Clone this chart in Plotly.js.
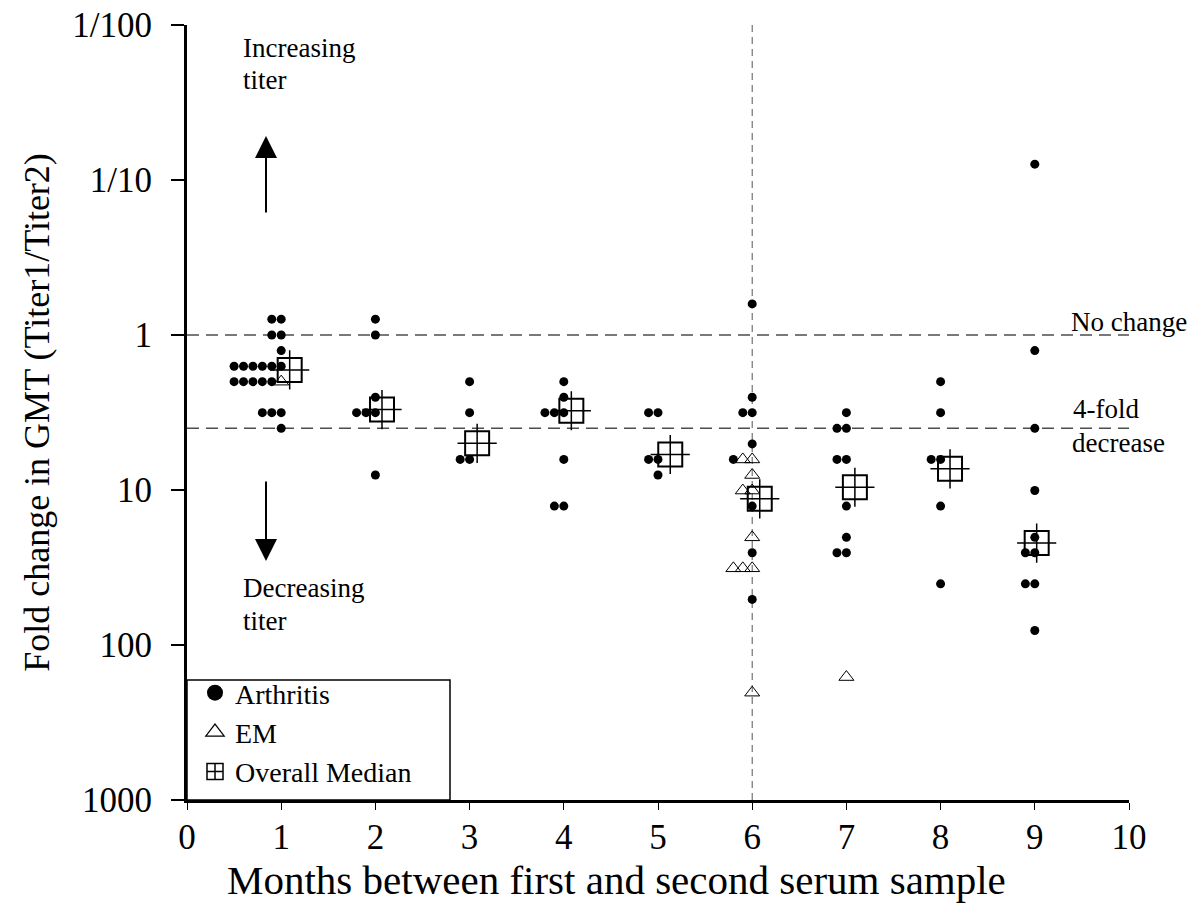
<!DOCTYPE html>
<html>
<head>
<meta charset="utf-8">
<script src="https://cdn.plot.ly/plotly-3.0.1.min.js"></script>
<style>html,body{margin:0;padding:0;background:#fff;}#chart{width:1193px;height:913px;}</style>
</head>
<body>
<div id="chart"></div>
<script>
// ---- Data ----
// Arthritis patients: months between samples (with side-by-side jitter) and fold change (Titer1/Titer2)
const arthritisX = [
  0.9, 1.0, 0.9, 1.0, 1.0,
  0.5, 0.6, 0.7, 0.8, 0.9, 1.0,
  0.5, 0.6, 0.7, 0.8, 0.9,
  0.8, 0.9, 1.0, 1.0,
  2.0, 2.0, 2.0, 1.8, 1.9, 2.0, 2.0,
  3.0, 3.0, 2.9, 3.0,
  4.0, 4.0, 3.8, 3.9, 4.0, 4.0, 3.9, 4.0,
  4.9, 5.0, 4.9, 5.0, 5.0,
  6.0, 6.0, 5.9, 6.0, 6.0, 5.8, 6.0, 6.0, 6.0,
  7.0, 6.9, 7.0, 6.9, 7.0, 7.0, 7.0, 6.9, 7.0,
  8.0, 8.0, 7.9, 8.0, 8.0, 8.0,
  9.0, 9.0, 9.0, 9.0, 9.0, 8.9, 9.0, 8.9, 9.0, 9.0
];
const arthritisY = [
  0.79, 0.79, 1.0, 1.0, 1.26,
  1.59, 1.59, 1.59, 1.59, 1.59, 1.59,
  2.0, 2.0, 2.0, 2.0, 2.0,
  3.17, 3.17, 3.17, 4.0,
  0.79, 1.0, 2.52, 3.17, 3.17, 3.17, 8.0,
  2.0, 3.17, 6.35, 6.35,
  2.0, 2.52, 3.17, 3.17, 3.17, 6.35, 12.7, 12.7,
  3.17, 3.17, 6.35, 6.35, 8.0,
  0.63, 2.52, 3.17, 3.17, 5.04, 6.35, 12.7, 25.4, 50.8,
  3.17, 4.0, 4.0, 6.35, 6.35, 12.7, 20.2, 25.4, 25.4,
  2.0, 3.17, 6.35, 6.35, 12.7, 40.3,
  0.079, 1.26, 4.0, 10.08, 20.2, 25.4, 25.4, 40.3, 40.3, 80.6
];
// EM patients
const emX = [1.0, 5.9, 6.0, 6.0, 5.9, 6.0, 6.0, 5.8, 5.9, 6.0, 6.0, 7.0];
const emY = [2.0, 6.35, 6.35, 8.0, 10.08, 10.08, 20.2, 32, 32, 32, 203, 161];
// Overall median per month
const medianX = [1.09, 2.07, 3.08, 4.08, 5.13, 6.08, 7.09, 8.10, 9.02];
const medianY = [1.68, 3.03, 5.0, 3.08, 5.9, 11.4, 9.6, 7.3, 22];
// Reference lines
const refLineX = [0, 10];
const noChange = 1;
const fourFold = 4;
const dividerMonth = 6;
const yRange = [0.01, 1000];
// Axis ticks
const xTicks = [0, 1, 2, 3, 4, 5, 6, 7, 8, 9, 10];
const yTickVals = [0.01, 0.1, 1, 10, 100, 1000];
const yTickText = ['1/100', '1/10', '1', '10', '100', '1000'];
const seriesNames = ['Arthritis', 'EM', 'Overall Median'];

const FONT = 'Liberation Serif, Times New Roman, serif';

const traces = [
  {x: refLineX, y: [noChange, noChange], mode: 'lines', showlegend: false, hoverinfo: 'skip',
   line: {color: '#4d4d4d', width: 1.5, dash: '12px,7px'}},
  {x: refLineX, y: [fourFold, fourFold], mode: 'lines', showlegend: false, hoverinfo: 'skip',
   line: {color: '#4d4d4d', width: 1.5, dash: '12px,7px'}},
  {x: [dividerMonth, dividerMonth], y: yRange, mode: 'lines', showlegend: false, hoverinfo: 'skip',
   line: {color: '#555', width: 1, dash: '7px,5px'}},
  {x: arthritisX, y: arthritisY, mode: 'markers', name: seriesNames[0], type: 'scatter', showlegend: false,
   marker: {symbol: 'circle', size: 9, color: '#000'}},
  {x: emX, y: emY, mode: 'markers', name: seriesNames[1], type: 'scatter', showlegend: false,
   marker: {symbol: 'triangle-up-open', size: 13, color: '#000', line: {width: 1, color: '#000'}}},
  {x: medianX, y: medianY, mode: 'markers', name: seriesNames[2], type: 'scatter', showlegend: false,
   marker: {symbol: 'square-open', size: 24, color: '#000', line: {width: 2, color: '#000'}}},
  {x: medianX, y: medianY, mode: 'markers', showlegend: false, type: 'scatter', hoverinfo: 'skip',
   marker: {symbol: 'cross-thin-open', size: 28, color: '#000', line: {width: 1.5, color: '#000'}}},
  // legend-only entries (no data) so the legend glyphs can be larger than the plotted marks
  {x: [null], y: [null], mode: 'markers', name: seriesNames[0], type: 'scatter',
   marker: {symbol: 'circle', size: 16, color: '#000'}},
  {x: [null], y: [null], mode: 'markers', name: seriesNames[1], type: 'scatter',
   marker: {symbol: 'triangle-up-open', size: 16, color: '#000', line: {width: 1.2, color: '#000'}}},
  {x: [null], y: [null], mode: 'markers', name: seriesNames[2], type: 'scatter',
   marker: {symbol: 'square-cross-open', size: 16, color: '#000', line: {width: 1.5, color: '#000'}}}
];

function px2paperX(px){ return (px - 187) / 942; }
function px2paperY(py){ return (800 - py) / 775; }

const annFont = {family: FONT, size: 27, color: '#000'};
const annotations = [
  {text: 'Increasing', xref: 'paper', yref: 'paper', x: px2paperX(241), y: px2paperY(48), xanchor: 'left', yanchor: 'middle', showarrow: false, font: annFont},
  {text: 'titer', xref: 'paper', yref: 'paper', x: px2paperX(241), y: px2paperY(80), xanchor: 'left', yanchor: 'middle', showarrow: false, font: annFont},
  {text: 'Decreasing', xref: 'paper', yref: 'paper', x: px2paperX(241), y: px2paperY(588), xanchor: 'left', yanchor: 'middle', showarrow: false, font: annFont},
  {text: 'titer', xref: 'paper', yref: 'paper', x: px2paperX(241), y: px2paperY(621), xanchor: 'left', yanchor: 'middle', showarrow: false, font: annFont},
  {text: 'No change', xref: 'paper', yref: 'paper', x: px2paperX(1069), y: px2paperY(322), xanchor: 'left', yanchor: 'middle', showarrow: false, font: annFont},
  {text: '4-fold', xref: 'paper', yref: 'paper', x: px2paperX(1071), y: px2paperY(409), xanchor: 'left', yanchor: 'middle', showarrow: false, font: annFont},
  {text: 'decrease', xref: 'paper', yref: 'paper', x: px2paperX(1070), y: px2paperY(443), xanchor: 'left', yanchor: 'middle', showarrow: false, font: annFont},
  {text: '', xref: 'paper', yref: 'paper', x: px2paperX(266), y: px2paperY(136), showarrow: true,
   ax: 0, ay: 78, arrowhead: 2, arrowsize: 2.2, arrowwidth: 2, arrowcolor: '#000'},
  {text: '', xref: 'paper', yref: 'paper', x: px2paperX(266), y: px2paperY(561), showarrow: true,
   ax: 0, ay: -81, arrowhead: 2, arrowsize: 2.2, arrowwidth: 2, arrowcolor: '#000'},
  {text: 'Months between first and second serum sample', xref: 'paper', yref: 'paper',
   x: px2paperX(616), y: px2paperY(880), xanchor: 'center', yanchor: 'middle', showarrow: false,
   font: {family: FONT, size: 41, color: '#000'}}
];

const shapes = [
  // legend frame
  {type: 'rect', xref: 'paper', yref: 'paper', x0: 0, x1: px2paperX(450), y0: 0, y1: px2paperY(680),
   line: {color: '#000', width: 1.5}, fillcolor: '#fff', layer: 'above'}
];

const layout = {
  width: 1193, height: 913,
  margin: {l: 187, r: 64, t: 25, b: 113},
  paper_bgcolor: '#fff', plot_bgcolor: '#fff',
  font: {family: FONT, color: '#000'},
  showlegend: true,
  legend: {x: px2paperX(195), y: px2paperY(797), xanchor: 'left', yanchor: 'bottom', bgcolor: 'rgba(0,0,0,0)',
           borderwidth: 0, font: {family: FONT, size: 28, color: '#000'},
           tracegroupgap: 0, itemsizing: 'trace', itemwidth: 30},
  xaxis: {
    range: [0, 10], tickvals: xTicks, ticks: 'outside', ticklen: 7, tickwidth: 1, tickcolor: '#000',
    showline: true, linewidth: 3, linecolor: '#000', showgrid: false, zeroline: false,
    ticklabelstandoff: -3,
    tickfont: {family: FONT, size: 35, color: '#000'}
  },
  yaxis: {
    type: 'log', range: [3, -2], tickvals: yTickVals, ticktext: yTickText,
    ticks: 'outside', ticklen: 13, tickwidth: 1.5, tickcolor: '#000', ticklabelstandoff: 12,
    showline: true, linewidth: 3, linecolor: '#000', showgrid: false, zeroline: false,
    tickfont: {family: FONT, size: 35, color: '#000'},
    title: {text: 'Fold change in GMT (Titer1/Titer2)', font: {family: FONT, size: 36, color: '#000'}, standoff: 12}
  },
  shapes: shapes,
  annotations: annotations
};

Plotly.newPlot('chart', traces, layout, {displayModeBar: false, staticPlot: true});
</script>
</body>
</html>
